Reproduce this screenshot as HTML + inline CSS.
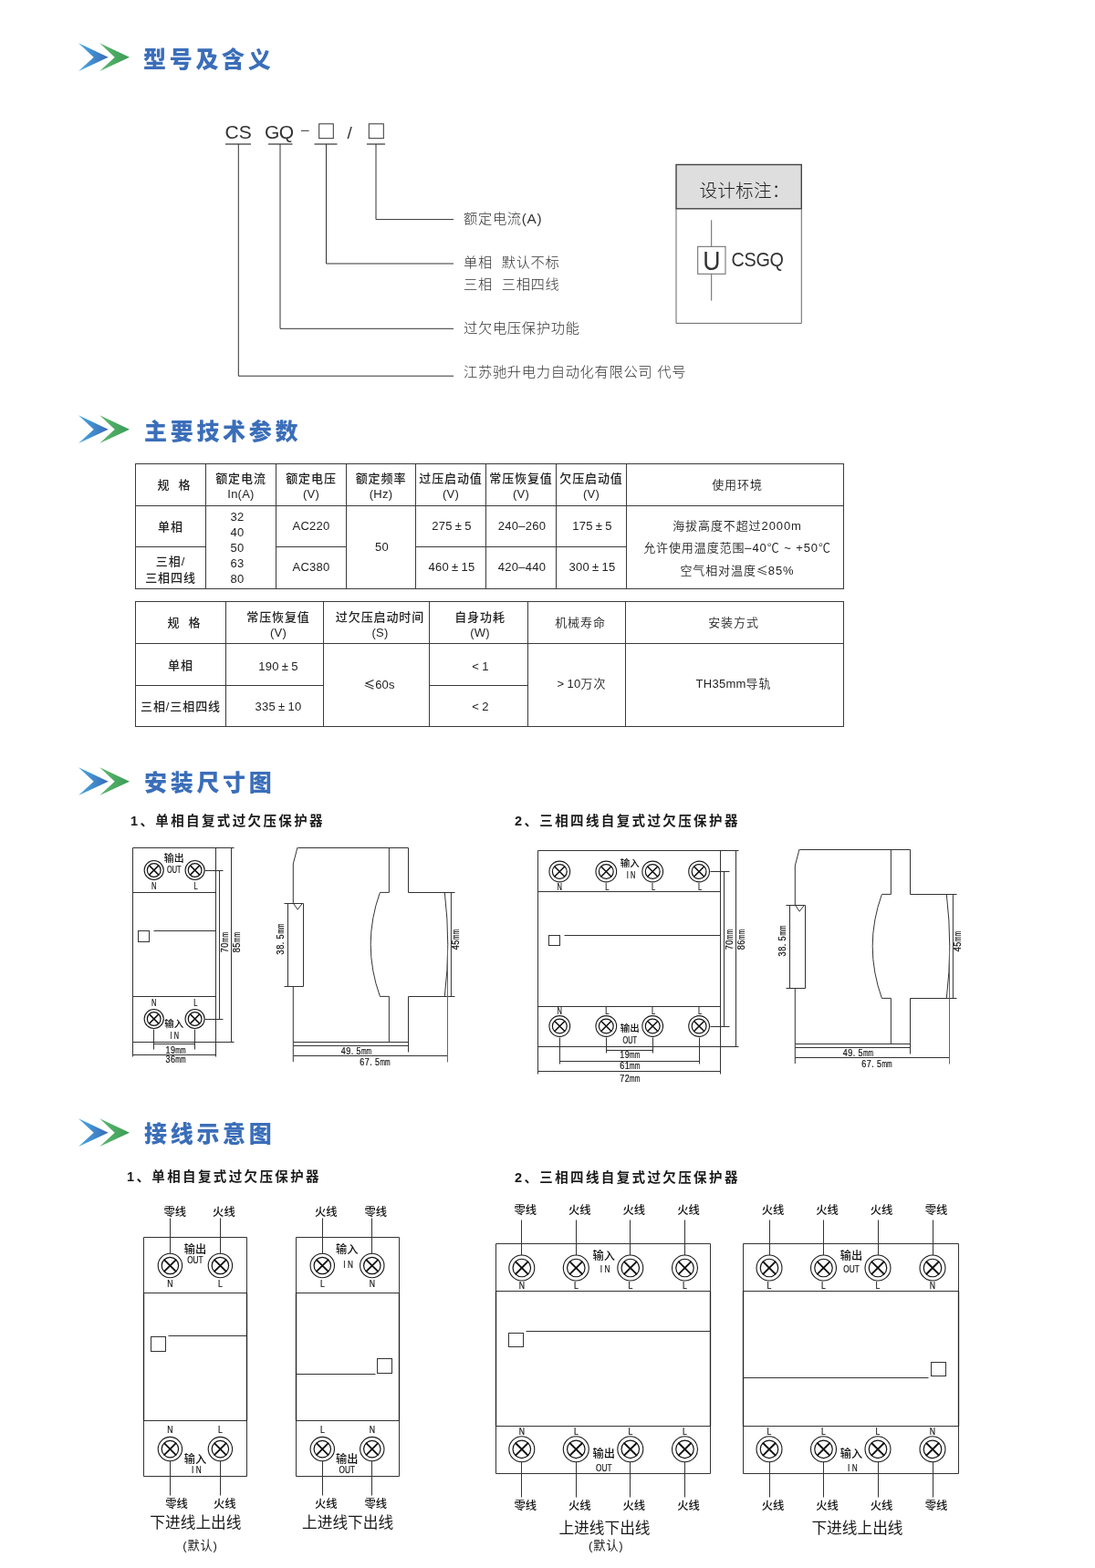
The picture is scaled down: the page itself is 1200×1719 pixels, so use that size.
<!DOCTYPE html>
<html lang="zh-CN">
<head>
<meta charset="utf-8">
<title>型号及含义 · 主要技术参数 · 安装尺寸图 · 接线示意图</title>
<style>
html,body{margin:0;padding:0;background:#fff;}
body{width:1200px;height:1719px;position:relative;overflow:hidden;
  font-family:"Liberation Sans","Noto Sans CJK SC",sans-serif;color:#333;}
#page{position:absolute;left:0;top:0;width:1200px;height:1719px;will-change:transform;}
h2.sec{position:absolute;margin:0;left:157px;height:36px;line-height:36px;
  font-family:"Liberation Sans","Noto Sans CJK SC",sans-serif;font-weight:900;
  font-size:25px;letter-spacing:3.7px;color:#3b6eb9;white-space:nowrap;}
svg.chev{position:absolute;left:80px;width:70px;height:40px;}
h3.sub{position:absolute;margin:0;height:20px;line-height:20px;
  font-family:"Liberation Sans","Noto Sans CJK SC",sans-serif;font-weight:bold;
  font-size:14.5px;letter-spacing:2.38px;color:#1a1a1a;white-space:nowrap;}
svg.art{position:absolute;left:0;top:0;width:1200px;height:1719px;overflow:visible;}
svg.art text{font-family:"Liberation Sans","Noto Sans CJK SC",sans-serif;fill:#333;}
svg.art text.cd{fill:#111;stroke:#111;stroke-width:0.2px;}
svg.art text.cj{fill:#111;font-weight:500;}
.ln{stroke:#333;stroke-width:1;fill:none;}
.lt{stroke:#666;stroke-width:1;fill:none;}
.lk{stroke:#222;stroke-width:1.3;fill:none;}
table.spec{position:absolute;border-collapse:collapse;table-layout:fixed;
  font-size:13px;letter-spacing:0.9px;color:#222;text-align:center;line-height:17px;font-weight:500;}
table.spec td,table.spec th{border:1px solid #3a3a3a;padding:0;font-weight:500;vertical-align:middle;overflow:hidden;white-space:nowrap;}
table.spec th.h2l{line-height:17.5px;padding-top:3.5px;}
table.spec th.sp{padding-left:8px;}
table.spec .n{letter-spacing:0.25px;word-spacing:-0.7px;}
table.spec td.ac{padding-left:0;padding-right:2px;}
table.spec td.n{padding-bottom:2px;padding-left:2px;}
table.spec td.cur{line-height:17px;padding-right:8px;padding-left:0;padding-bottom:0;padding-top:1px;}
table.spec td.env{line-height:24px;padding-top:2px;}
table.spec .last{padding-left:5px;}
table.spec .cj{font-family:"Noto Sans CJK SC","Liberation Sans",sans-serif;letter-spacing:0;}
table.spec .lw{font-weight:350;}
#t2 th.h2l{padding-top:5px;}
#t2 td.r1{padding-top:3.4px;padding-bottom:0;}
#t2 td.r0{padding-top:0;padding-bottom:0;}
#t2 td.c1{padding-top:1px;}
table.spec td.tp{line-height:18px;padding-top:4px;}
</style>
</head>
<body>
<div id="page">
<svg width="0" height="0" style="position:absolute">
  <defs>
    <linearGradient id="gb" x1="0" y1="0" x2="1" y2="0">
      <stop offset="0" stop-color="#47abe4"/><stop offset="1" stop-color="#3a69b6"/>
    </linearGradient>
    <linearGradient id="gg" x1="0" y1="0" x2="1" y2="0">
      <stop offset="0" stop-color="#5cb86f"/><stop offset="1" stop-color="#3a9c55"/>
    </linearGradient>
    <symbol id="chev" viewBox="0 0 70 40">
      <path d="M6 4.3 L38.7 19.7 L6 35 L22.7 19.7 Z" fill="url(#gb)"/>
      <path d="M29.2 4.3 L62 19.7 L29.2 35 L45.7 19.7 Z" fill="url(#gg)"/>
    </symbol>
    <symbol id="term" viewBox="-16 -16 32 32" overflow="visible">
      <circle cx="0" cy="0" r="13.2" fill="#fff" stroke="#1a1a1a" stroke-width="1.1" vector-effect="non-scaling-stroke"/>
      <circle cx="0" cy="0" r="9.2" fill="#fff" stroke="#111" stroke-width="1.2" vector-effect="non-scaling-stroke"/>
      <path d="M-6.7 -6.7 L6.7 6.7 M6.7 -6.7 L-6.7 6.7" stroke="#111" stroke-width="1.85" fill="none"/>
    </symbol>
  </defs>
</svg>

<!-- ============ Section 1: 型号及含义 ============ -->
<svg class="chev" style="top:43px"><use href="#chev" x="0" y="0" width="70" height="40"/></svg>
<h2 class="sec" style="top:46.5px">型号及含义</h2>

<svg class="art" viewBox="0 0 1200 1719">
  <!-- model code -->
  <g font-size="21px">
    <text x="246.5" y="151.8">CS</text>
    <text x="290" y="151.8" letter-spacing="-0.6px">GQ</text>
    <text x="380.5" y="151.8" font-size="19px">/</text>
  </g>
  <path class="ln" d="M330 143.3 H338.7" stroke-width="1.1"/>
  <rect class="ln" x="349.7" y="135.8" width="15.6" height="15.9"/>
  <rect class="ln" x="404.3" y="135.8" width="16" height="15.9"/>
  <g stroke="#5c5c5c" stroke-width="1.5" fill="none">
    <path d="M247 158 H275"/>
    <path d="M294 158 H320.5"/>
    <path d="M344.5 158 H369.5"/>
    <path d="M402 158 H422"/>
  </g>
  <g class="ln">
    <path d="M412 158 V240.6 H497"/>
    <path d="M357.5 158 V289 H497"/>
    <path d="M307 158 V360.3 H497"/>
    <path d="M261.3 158 V412.2 H497"/>
  </g>
  <g font-size="15.3px" letter-spacing="0.65px" font-weight="300" style="fill:#262626">
    <text x="508" y="245">额定电流(A)</text>
    <text x="508" y="293.4">单相&#160;&#160;默认不标</text>
    <text x="508" y="317">三相&#160;&#160;三相四线</text>
    <text x="508" y="364.8">过欠电压保护功能</text>
    <text x="508" y="412.8">江苏驰升电力自动化有限公司 代号</text>
  </g>
  <!-- design note box -->
  <rect x="741" y="180.5" width="137.3" height="48.3" fill="#dedede" stroke="#444" stroke-width="1.4"/>
  <path class="lt" d="M741 229 V354.4 H878.3 V229" stroke="#444"/>
  <text x="766.5" y="215.8" font-size="19.6px" letter-spacing="0.2px" font-weight="300" style="fill:#222">设计标注：</text>
  <path class="lt" d="M779.7 241.3 V270.3 M779.7 300.3 V329.6" stroke-width="1.2"/>
  <rect class="lt" x="764.7" y="270.3" width="30.3" height="30" stroke="#444"/>
  <text transform="translate(779.9 296) scale(0.92 1)" font-size="29px" text-anchor="middle">U</text>
  <text transform="translate(801.5 292.2) scale(0.9 1)" font-size="22px" letter-spacing="-0.3px">CSGQ</text>
</svg>

<!-- ============ Section 2: 主要技术参数 ============ -->
<svg class="chev" style="top:451px"><use href="#chev" x="0" y="0" width="70" height="40"/></svg>
<h2 class="sec" style="top:454.5px;left:158px">主要技术参数</h2>

<table class="spec" id="t1" style="left:148px;top:508px;width:777px;height:138px">
  <colgroup><col style="width:77px"><col style="width:77px"><col style="width:77px"><col style="width:76px"><col style="width:77px"><col style="width:77px"><col style="width:77px"><col style="width:238px"></colgroup>
  <tr style="height:46px">
    <th class="sp">规&#160;&#160;格</th>
    <th class="h2l">额定电流<br><span class="n">In(A)</span></th>
    <th class="h2l">额定电压<br><span class="n">(V)</span></th>
    <th class="h2l">额定频率<br><span class="n">(Hz)</span></th>
    <th class="h2l">过压启动值<br><span class="n">(V)</span></th>
    <th class="h2l">常压恢复值<br><span class="n">(V)</span></th>
    <th class="h2l">欠压启动值<br><span class="n">(V)</span></th>
    <th class="last lw">使用环境</th>
  </tr>
  <tr style="height:45px">
    <td class="c1">单相</td>
    <td rowspan="2" class="n cur">32<br>40<br>50<br>63<br>80</td>
    <td class="n ac">AC220</td>
    <td rowspan="2" class="n">50</td>
    <td class="n">275 ± 5</td>
    <td class="n">240–260</td>
    <td class="n">175 ± 5</td>
    <td rowspan="2" class="env last lw">海拔高度不超过2000m<br>允许使用温度范围–40℃ ~ +50℃<br>空气相对温度<span class="cj">≤</span>85%</td>
  </tr>
  <tr style="height:46px">
    <td class="tp">三相/<br>三相四线</td>
    <td class="n ac">AC380</td>
    <td class="n">460 ± 15</td>
    <td class="n">420–440</td>
    <td class="n">300 ± 15</td>
  </tr>
</table>

<table class="spec" id="t2" style="left:148px;top:659px;width:777px;height:138px">
  <colgroup><col style="width:99px"><col style="width:107px"><col style="width:116px"><col style="width:108px"><col style="width:107px"><col style="width:239px"></colgroup>
  <tr style="height:46px">
    <th class="sp">规&#160;&#160;格</th>
    <th class="h2l" style="padding-left:8px">常压恢复值<br><span class="n">(V)</span></th>
    <th class="h2l" style="padding-left:8px">过欠压启动时间<br><span class="n">(S)</span></th>
    <th class="h2l" style="padding-left:3px">自身功耗<br><span class="n">(W)</span></th>
    <th class="lw" style="padding-left:8px">机械寿命</th>
    <th class="lw" style="padding-right:2px">安装方式</th>
  </tr>
  <tr style="height:46px">
    <td class="c1">单相</td>
    <td class="n r1" style="padding-left:8px">190 ± 5</td>
    <td rowspan="2" class="n r0" style="padding-left:6px;padding-bottom:3px"><span class="cj">≤</span>60s</td>
    <td class="n r1" style="padding-left:4px">&lt; 1</td>
    <td rowspan="2" class="lw" style="padding-left:11px;padding-bottom:3px"><span class="n">&gt; 10</span>万次</td>
    <td rowspan="2" class="lw" style="padding-right:2px;padding-bottom:3px"><span class="n">TH35mm</span>导轨</td>
  </tr>
  <tr style="height:45px">
    <td class="c1">三相/三相四线</td>
    <td class="n r0" style="padding-left:8px">335 ± 10</td>
    <td class="n r0" style="padding-left:4px">&lt; 2</td>
  </tr>
</table>

<!-- ============ Section 3: 安装尺寸图 ============ -->
<svg class="chev" style="top:836.5px"><use href="#chev" x="0" y="0" width="70" height="40"/></svg>
<h2 class="sec" style="top:840px;left:158px">安装尺寸图</h2>
<h3 class="sub" style="left:143px;top:889.8px">1、单相自复式过欠压保护器</h3>
<h3 class="sub" style="left:564px;top:889.8px">2、三相四线自复式过欠压保护器</h3>

<svg class="art" viewBox="0 0 1200 1719">

<g id="dim1">
<g class="ln">
<path d="M145.5 929.5 H256.5 M145.5 1142.5 H256.5 M145.5 978.5 H236.5 M145.5 1092.5 H236.5"/>
<path d="M145.5 929.5 V1158.5 M236.5 929.5 V1158.5 M240.5 954.5 V1117.5 M253.5 929.5 V1142.5"/>
<path d="M224.5 954.5 H244.5 M224.5 1117.5 H244.5"/>
<path d="M168.5 1128.5 V1150.5 M213.5 1128.5 V1150.5 M168.5 1144.5 H213.5 M145.5 1156.5 H236.5"/>
<path d="M168.5 1020.5 H236.5"/>
<rect x="151.5" y="1020.5" width="12.0" height="12.0"/>
</g>
<use href="#term" x="-16" y="-16" width="32" height="32" transform="translate(168.7 954.0) scale(0.800)"/>
<use href="#term" x="-16" y="-16" width="32" height="32" transform="translate(168.7 1117.0) scale(0.800)"/>
<use href="#term" x="-16" y="-16" width="32" height="32" transform="translate(213.6 954.0) scale(0.800)"/>
<use href="#term" x="-16" y="-16" width="32" height="32" transform="translate(213.6 1117.0) scale(0.800)"/>
<text class="cj" x="190.7" y="944.6" text-anchor="middle" font-size="10.9px" >输出</text>
<text class="cd" transform="translate(190.7 956.8) scale(0.72 1)" text-anchor="middle" font-size="10.18px" >OUT</text>
<text class="cd" transform="translate(168.7 975.1) scale(0.69 1)" text-anchor="middle" font-size="10.92px" >N</text>
<text class="cd" transform="translate(214.6 975.1) scale(0.69 1)" text-anchor="middle" font-size="10.92px" >L</text>
<text class="cd" transform="translate(168.7 1102.8) scale(0.69 1)" text-anchor="middle" font-size="10.92px" >N</text>
<text class="cd" transform="translate(214.3 1102.8) scale(0.69 1)" text-anchor="middle" font-size="10.92px" >L</text>
<text class="cj" x="190.7" y="1126.0" text-anchor="middle" font-size="10.5px" >输入</text>
<text class="cd" transform="translate(192.4 1139.2) scale(0.72 1)" text-anchor="middle" font-size="10.18px" letter-spacing="3.2px">IN</text>
<g transform="translate(192.5 1154.6)"><text class="cd" transform="translate(-11.04 0) scale(0.88 1)" font-size="10.2px" letter-spacing="0.5px">19</text><text class="cd" transform="translate(-0.18 0) scale(0.66 1)" font-size="10.2px">mm</text></g>
<g transform="translate(192.5 1165.0)"><text class="cd" transform="translate(-11.04 0) scale(0.88 1)" font-size="10.2px" letter-spacing="0.5px">36</text><text class="cd" transform="translate(-0.18 0) scale(0.66 1)" font-size="10.2px">mm</text></g>
<g transform="translate(250.0 1033.0) rotate(-90)"><text class="cd" transform="translate(-11.25 0) scale(0.88 1)" font-size="10.4px" letter-spacing="0.5px">70</text><text class="cd" transform="translate(-0.19 0) scale(0.66 1)" font-size="10.4px">mm</text></g>
<g transform="translate(263.4 1033.0) rotate(-90)"><text class="cd" transform="translate(-11.25 0) scale(0.88 1)" font-size="10.4px" letter-spacing="0.5px">85</text><text class="cd" transform="translate(-0.19 0) scale(0.66 1)" font-size="10.4px">mm</text></g>
</g>
<g id="side1" transform="translate(0.0 0.0)">
<g class="ln">
<path d="M326.5 929.5 H447.5 V978.5 H498.5 M447.5 1092.5 H498.5 M447.5 1092.5 V1153.5"/>
<path d="M326 929 L321.3 947 V990 M321.3 1081 V1164"/>
<path d="M321.3 990 L326.2 997.2 L331.6 990"/>
<path d="M311.5 990.5 H332.5 V1081.5 H311.5 M315.5 990.5 V1081.5"/>
<path d="M426.4 929 V978.4 H416.4 Q396 1035.4 416.4 1092.4 H426.4 V1142"/>
<path d="M487.3 978.4 Q494.2 1035.4 487.3 1092.4 M494.4 978.4 V1092.4"/>
<path d="M321.5 1142.5 H447.5 M321.5 1146.5 H447.5 M321.5 1157.5 H490.5"/>
</g>
<path class="lt" d="M490.5 1036.5 V1164.5" stroke="#444"/>
<g transform="translate(311.2 1029.4) rotate(-90)"><text class="cd" transform="translate(-16.99 0) scale(0.88 1)" font-size="10.4px" letter-spacing="0.5px">38. 5</text><text class="cd" transform="translate(5.56 0) scale(0.66 1)" font-size="10.4px">mm</text></g>
<g transform="translate(503.0 1030.0) rotate(-90)"><text class="cd" transform="translate(-11.25 0) scale(0.88 1)" font-size="10.4px" letter-spacing="0.5px">45</text><text class="cd" transform="translate(-0.19 0) scale(0.66 1)" font-size="10.4px">mm</text></g>
<g transform="translate(390.5 1156.0)"><text class="cd" transform="translate(-16.69 0) scale(0.88 1)" font-size="10.2px" letter-spacing="0.5px">49. 5</text><text class="cd" transform="translate(5.47 0) scale(0.66 1)" font-size="10.2px">mm</text></g>
<g transform="translate(411.0 1168.0)"><text class="cd" transform="translate(-16.69 0) scale(0.88 1)" font-size="10.2px" letter-spacing="0.5px">67. 5</text><text class="cd" transform="translate(5.47 0) scale(0.66 1)" font-size="10.2px">mm</text></g>
</g>
<g id="dim2">
<g class="ln">
<path d="M589.5 932.5 H809.5 M589.5 1147.5 H809.5 M589.5 977.5 H789.5 M589.5 1103.5 H789.5"/>
<path d="M589.5 932.5 V1177.5 M789.5 932.5 V1177.5 M793.5 955.5 V1125.5 M806.5 932.5 V1147.5"/>
<path d="M778.5 955.5 H799.5 M778.5 1125.5 H799.5"/>
<path d="M664.5 1137.5 V1154.5 M715.5 1137.5 V1154.5 M664.5 1151.5 H715.5"/>
<path d="M613.5 1137.5 V1166.5 M766.5 1137.5 V1166.5 M613.5 1163.5 H766.5"/>
<path d="M589.5 1174.5 H789.5"/>
<path d="M618.5 1025.5 H789.5"/>
<rect x="601.5" y="1025.5" width="12.0" height="11.0"/>
</g>
<use href="#term" x="-16" y="-16" width="32" height="32" transform="translate(613.3 955.5) scale(0.860)"/>
<use href="#term" x="-16" y="-16" width="32" height="32" transform="translate(613.3 1125.0) scale(0.860)"/>
<use href="#term" x="-16" y="-16" width="32" height="32" transform="translate(664.3 955.5) scale(0.860)"/>
<use href="#term" x="-16" y="-16" width="32" height="32" transform="translate(664.3 1125.0) scale(0.860)"/>
<use href="#term" x="-16" y="-16" width="32" height="32" transform="translate(715.2 955.5) scale(0.860)"/>
<use href="#term" x="-16" y="-16" width="32" height="32" transform="translate(715.2 1125.0) scale(0.860)"/>
<use href="#term" x="-16" y="-16" width="32" height="32" transform="translate(766.1 955.5) scale(0.860)"/>
<use href="#term" x="-16" y="-16" width="32" height="32" transform="translate(766.1 1125.0) scale(0.860)"/>
<text class="cj" x="690.3" y="949.6" text-anchor="middle" font-size="10.5px" >输入</text>
<text class="cd" transform="translate(692.6 962.8) scale(0.72 1)" text-anchor="middle" font-size="10.18px" letter-spacing="3.2px">IN</text>
<text class="cd" transform="translate(613.3 976.2) scale(0.69 1)" text-anchor="middle" font-size="10.92px" >N</text>
<text class="cd" transform="translate(613.3 1111.6) scale(0.69 1)" text-anchor="middle" font-size="10.92px" >N</text>
<text class="cd" transform="translate(665.3 976.2) scale(0.69 1)" text-anchor="middle" font-size="10.92px" >L</text>
<text class="cd" transform="translate(665.3 1111.6) scale(0.69 1)" text-anchor="middle" font-size="10.92px" >L</text>
<text class="cd" transform="translate(716.2 976.2) scale(0.69 1)" text-anchor="middle" font-size="10.92px" >L</text>
<text class="cd" transform="translate(716.2 1111.6) scale(0.69 1)" text-anchor="middle" font-size="10.92px" >L</text>
<text class="cd" transform="translate(767.1 976.2) scale(0.69 1)" text-anchor="middle" font-size="10.92px" >L</text>
<text class="cd" transform="translate(767.1 1111.6) scale(0.69 1)" text-anchor="middle" font-size="10.92px" >L</text>
<text class="cj" x="690.3" y="1131.4" text-anchor="middle" font-size="10.5px" >输出</text>
<text class="cd" transform="translate(690.3 1144.2) scale(0.72 1)" text-anchor="middle" font-size="10.18px" >OUT</text>
<g transform="translate(690.3 1159.9)"><text class="cd" transform="translate(-11.04 0) scale(0.88 1)" font-size="10.2px" letter-spacing="0.5px">19</text><text class="cd" transform="translate(-0.18 0) scale(0.66 1)" font-size="10.2px">mm</text></g>
<g transform="translate(690.3 1171.8)"><text class="cd" transform="translate(-11.04 0) scale(0.88 1)" font-size="10.2px" letter-spacing="0.5px">61</text><text class="cd" transform="translate(-0.18 0) scale(0.66 1)" font-size="10.2px">mm</text></g>
<g transform="translate(690.3 1186.4)"><text class="cd" transform="translate(-11.04 0) scale(0.88 1)" font-size="10.2px" letter-spacing="0.5px">72</text><text class="cd" transform="translate(-0.18 0) scale(0.66 1)" font-size="10.2px">mm</text></g>
<g transform="translate(803.3 1030.0) rotate(-90)"><text class="cd" transform="translate(-11.25 0) scale(0.88 1)" font-size="10.4px" letter-spacing="0.5px">70</text><text class="cd" transform="translate(-0.19 0) scale(0.66 1)" font-size="10.4px">mm</text></g>
<g transform="translate(816.3 1030.0) rotate(-90)"><text class="cd" transform="translate(-11.25 0) scale(0.88 1)" font-size="10.4px" letter-spacing="0.5px">86</text><text class="cd" transform="translate(-0.19 0) scale(0.66 1)" font-size="10.4px">mm</text></g>
</g>
<g id="side2" transform="translate(550.0 2.0)">
<g class="ln">
<path d="M326.5 929.5 H447.5 V978.5 H498.5 M447.5 1092.5 H498.5 M447.5 1092.5 V1153.5"/>
<path d="M326 929 L321.3 947 V990 M321.3 1081 V1164"/>
<path d="M321.3 990 L326.2 997.2 L331.6 990"/>
<path d="M311.5 990.5 H332.5 V1081.5 H311.5 M315.5 990.5 V1081.5"/>
<path d="M426.4 929 V978.4 H416.4 Q396 1035.4 416.4 1092.4 H426.4 V1142"/>
<path d="M487.3 978.4 Q494.2 1035.4 487.3 1092.4 M494.4 978.4 V1092.4"/>
<path d="M321.5 1142.5 H447.5 M321.5 1146.5 H447.5 M321.5 1157.5 H490.5"/>
</g>
<path class="lt" d="M490.5 1036.5 V1164.5" stroke="#444"/>
<g transform="translate(311.2 1029.4) rotate(-90)"><text class="cd" transform="translate(-16.99 0) scale(0.88 1)" font-size="10.4px" letter-spacing="0.5px">38. 5</text><text class="cd" transform="translate(5.56 0) scale(0.66 1)" font-size="10.4px">mm</text></g>
<g transform="translate(503.0 1030.0) rotate(-90)"><text class="cd" transform="translate(-11.25 0) scale(0.88 1)" font-size="10.4px" letter-spacing="0.5px">45</text><text class="cd" transform="translate(-0.19 0) scale(0.66 1)" font-size="10.4px">mm</text></g>
<g transform="translate(390.5 1156.0)"><text class="cd" transform="translate(-16.69 0) scale(0.88 1)" font-size="10.2px" letter-spacing="0.5px">49. 5</text><text class="cd" transform="translate(5.47 0) scale(0.66 1)" font-size="10.2px">mm</text></g>
<g transform="translate(411.0 1168.0)"><text class="cd" transform="translate(-16.69 0) scale(0.88 1)" font-size="10.2px" letter-spacing="0.5px">67. 5</text><text class="cd" transform="translate(5.47 0) scale(0.66 1)" font-size="10.2px">mm</text></g>
</g>
</svg>

<!-- ============ Section 4: 接线示意图 ============ -->
<svg class="chev" style="top:1221.5px"><use href="#chev" x="0" y="0" width="70" height="40"/></svg>
<h2 class="sec" style="top:1225px;left:158px">接线示意图</h2>
<h3 class="sub" style="left:139px;top:1279.5px">1、单相自复式过欠压保护器</h3>
<h3 class="sub" style="left:564px;top:1280.5px">2、三相四线自复式过欠压保护器</h3>

<svg class="art" viewBox="0 0 1200 1719">

<g id="w1">
<g class="ln">
<path d="M157.5 1356.5 H270.5 V1618.5 H157.5 Z M157.5 1417.5 H270.5 M157.5 1557.5 H270.5"/>
<path class="lk" d="M157.5 1417.5 V1557.5 M270.5 1417.5 V1557.5"/>
<path d="M186.5 1335.5 V1387.5 M186.5 1588.5 V1639.5"/>
<path d="M241.5 1335.5 V1387.5 M241.5 1588.5 V1639.5"/>
<rect x="165.5" y="1465.5" width="16.0" height="16.0"/>
<path d="M184.5 1464.5 H270.5"/>
</g>
<use href="#term" x="-16" y="-16" width="32" height="32" transform="translate(186.4 1387.5) scale(1.000)"/>
<use href="#term" x="-16" y="-16" width="32" height="32" transform="translate(186.4 1588.6) scale(1.000)"/>
<use href="#term" x="-16" y="-16" width="32" height="32" transform="translate(241.4 1387.5) scale(1.000)"/>
<use href="#term" x="-16" y="-16" width="32" height="32" transform="translate(241.4 1588.6) scale(1.000)"/>
<text class="cj" x="191.8" y="1332.5" text-anchor="middle" font-size="12.3px" >零线</text>
<text class="cj" x="245.4" y="1332.5" text-anchor="middle" font-size="12.3px" >火线</text>
<text class="cj" x="193.6" y="1652.5" text-anchor="middle" font-size="12.3px" >零线</text>
<text class="cj" x="246.2" y="1652.5" text-anchor="middle" font-size="12.3px" >火线</text>
<text class="cd" transform="translate(186.4 1410.7) scale(0.76 1)" text-anchor="middle" font-size="11.45px" >N</text>
<text class="cd" transform="translate(241.4 1410.7) scale(0.76 1)" text-anchor="middle" font-size="11.45px" >L</text>
<text class="cd" transform="translate(186.4 1571.3) scale(0.76 1)" text-anchor="middle" font-size="11.45px" >N</text>
<text class="cd" transform="translate(241.4 1571.3) scale(0.76 1)" text-anchor="middle" font-size="11.45px" >L</text>
<text class="cj" x="213.9" y="1373.8" text-anchor="middle" font-size="12.2px" >输出</text>
<text class="cd" transform="translate(213.9 1385.2) scale(0.72 1)" text-anchor="middle" font-size="11.45px" >OUT</text>
<text class="cj" x="213.9" y="1604.0" text-anchor="middle" font-size="12.2px" >输入</text>
<text class="cd" transform="translate(216.5 1615.4) scale(0.72 1)" text-anchor="middle" font-size="11.45px" letter-spacing="3.4px">IN</text>
<text class="cj" x="214.4" y="1674.6" text-anchor="middle" font-size="16.7px" style="font-weight:400;fill:#1a1a1a">下进线上出线</text>
<text class="cj" x="219.4" y="1698.5" text-anchor="middle" font-size="13.2px" style="font-weight:400;fill:#1a1a1a" letter-spacing="0.8px">(默认)</text>
</g>
<g id="w2">
<g class="ln">
<path d="M324.5 1356.5 H437.5 V1618.5 H324.5 Z M324.5 1417.5 H437.5 M324.5 1557.5 H437.5"/>
<path class="lk" d="M324.5 1417.5 V1557.5 M437.5 1417.5 V1557.5"/>
<path d="M353.5 1335.5 V1387.5 M353.5 1588.5 V1639.5"/>
<path d="M407.5 1335.5 V1387.5 M407.5 1588.5 V1639.5"/>
<rect x="413.5" y="1489.5" width="16.0" height="16.0"/>
<path d="M324.5 1506.5 H411.5"/>
</g>
<use href="#term" x="-16" y="-16" width="32" height="32" transform="translate(353.3 1387.5) scale(1.000)"/>
<use href="#term" x="-16" y="-16" width="32" height="32" transform="translate(353.3 1588.6) scale(1.000)"/>
<use href="#term" x="-16" y="-16" width="32" height="32" transform="translate(407.8 1387.5) scale(1.000)"/>
<use href="#term" x="-16" y="-16" width="32" height="32" transform="translate(407.8 1588.6) scale(1.000)"/>
<text class="cj" x="357.3" y="1332.5" text-anchor="middle" font-size="12.3px" >火线</text>
<text class="cj" x="411.8" y="1332.5" text-anchor="middle" font-size="12.3px" >零线</text>
<text class="cj" x="357.3" y="1652.5" text-anchor="middle" font-size="12.3px" >火线</text>
<text class="cj" x="411.8" y="1652.5" text-anchor="middle" font-size="12.3px" >零线</text>
<text class="cd" transform="translate(353.3 1410.7) scale(0.76 1)" text-anchor="middle" font-size="11.45px" >L</text>
<text class="cd" transform="translate(407.8 1410.7) scale(0.76 1)" text-anchor="middle" font-size="11.45px" >N</text>
<text class="cd" transform="translate(353.3 1571.3) scale(0.76 1)" text-anchor="middle" font-size="11.45px" >L</text>
<text class="cd" transform="translate(407.8 1571.3) scale(0.76 1)" text-anchor="middle" font-size="11.45px" >N</text>
<text class="cj" x="380.3" y="1374.4" text-anchor="middle" font-size="12.2px" >输入</text>
<text class="cd" transform="translate(382.9 1389.6) scale(0.72 1)" text-anchor="middle" font-size="11.45px" letter-spacing="3.4px">IN</text>
<text class="cj" x="380.3" y="1604.0" text-anchor="middle" font-size="12.2px" >输出</text>
<text class="cd" transform="translate(380.3 1615.4) scale(0.72 1)" text-anchor="middle" font-size="11.45px" >OUT</text>
<text class="cj" x="381.1" y="1674.6" text-anchor="middle" font-size="16.7px" style="font-weight:400;fill:#1a1a1a">上进线下出线</text>
</g>
<g id="w3">
<g class="ln">
<path d="M543.5 1363.5 H778.5 V1615.5 H543.5 Z M543.5 1415.5 H778.5 M543.5 1563.5 H778.5"/>
<path class="lk" d="M543.5 1415.5 V1563.5 M778.5 1415.5 V1563.5"/>
<path d="M571.5 1337.5 V1390.5 M571.5 1588.5 V1641.5"/>
<path d="M631.5 1337.5 V1390.5 M631.5 1588.5 V1641.5"/>
<path d="M690.5 1337.5 V1390.5 M690.5 1588.5 V1641.5"/>
<path d="M750.5 1337.5 V1390.5 M750.5 1588.5 V1641.5"/>
<rect x="557.5" y="1461.5" width="16.0" height="15.0"/>
<path d="M576.5 1459.5 H778.5"/>
</g>
<use href="#term" x="-16" y="-16" width="32" height="32" transform="translate(571.8 1390.0) scale(1.060)"/>
<use href="#term" x="-16" y="-16" width="32" height="32" transform="translate(571.8 1588.8) scale(1.060)"/>
<use href="#term" x="-16" y="-16" width="32" height="32" transform="translate(631.3 1390.0) scale(1.060)"/>
<use href="#term" x="-16" y="-16" width="32" height="32" transform="translate(631.3 1588.8) scale(1.060)"/>
<use href="#term" x="-16" y="-16" width="32" height="32" transform="translate(690.8 1390.0) scale(1.060)"/>
<use href="#term" x="-16" y="-16" width="32" height="32" transform="translate(690.8 1588.8) scale(1.060)"/>
<use href="#term" x="-16" y="-16" width="32" height="32" transform="translate(750.5 1390.0) scale(1.060)"/>
<use href="#term" x="-16" y="-16" width="32" height="32" transform="translate(750.5 1588.8) scale(1.060)"/>
<text class="cj" x="575.8" y="1331.2" text-anchor="middle" font-size="12.3px" >零线</text>
<text class="cj" x="635.3" y="1331.2" text-anchor="middle" font-size="12.3px" >火线</text>
<text class="cj" x="694.8" y="1331.2" text-anchor="middle" font-size="12.3px" >火线</text>
<text class="cj" x="754.5" y="1331.2" text-anchor="middle" font-size="12.3px" >火线</text>
<text class="cj" x="575.8" y="1655.0" text-anchor="middle" font-size="12.3px" >零线</text>
<text class="cj" x="635.3" y="1655.0" text-anchor="middle" font-size="12.3px" >火线</text>
<text class="cj" x="694.8" y="1655.0" text-anchor="middle" font-size="12.3px" >火线</text>
<text class="cj" x="754.5" y="1655.0" text-anchor="middle" font-size="12.3px" >火线</text>
<text class="cd" transform="translate(571.8 1413.2) scale(0.76 1)" text-anchor="middle" font-size="11.45px" >N</text>
<text class="cd" transform="translate(631.3 1413.2) scale(0.76 1)" text-anchor="middle" font-size="11.45px" >L</text>
<text class="cd" transform="translate(690.8 1413.2) scale(0.76 1)" text-anchor="middle" font-size="11.45px" >L</text>
<text class="cd" transform="translate(750.5 1413.2) scale(0.76 1)" text-anchor="middle" font-size="11.45px" >L</text>
<text class="cd" transform="translate(571.8 1572.5) scale(0.76 1)" text-anchor="middle" font-size="11.45px" >N</text>
<text class="cd" transform="translate(631.3 1572.5) scale(0.76 1)" text-anchor="middle" font-size="11.45px" >L</text>
<text class="cd" transform="translate(690.8 1572.5) scale(0.76 1)" text-anchor="middle" font-size="11.45px" >L</text>
<text class="cd" transform="translate(750.5 1572.5) scale(0.76 1)" text-anchor="middle" font-size="11.45px" >L</text>
<text class="cj" x="661.8" y="1380.6" text-anchor="middle" font-size="12.2px" >输入</text>
<text class="cd" transform="translate(664.4 1395.2) scale(0.72 1)" text-anchor="middle" font-size="11.45px" letter-spacing="3.4px">IN</text>
<text class="cj" x="661.8" y="1598.2" text-anchor="middle" font-size="12.2px" >输出</text>
<text class="cd" transform="translate(661.8 1612.6) scale(0.72 1)" text-anchor="middle" font-size="11.45px" >OUT</text>
<text class="cj" x="662.5" y="1680.5" text-anchor="middle" font-size="16.7px" style="font-weight:400;fill:#1a1a1a">上进线下出线</text>
<text class="cj" x="664.3" y="1698.8" text-anchor="middle" font-size="13.2px" style="font-weight:400;fill:#1a1a1a" letter-spacing="0.8px">(默认)</text>
</g>
<g id="w4">
<g class="ln">
<path d="M814.5 1363.5 H1050.5 V1615.5 H814.5 Z M814.5 1415.5 H1050.5 M814.5 1563.5 H1050.5"/>
<path class="lk" d="M814.5 1415.5 V1563.5 M1050.5 1415.5 V1563.5"/>
<path d="M843.5 1337.5 V1390.5 M843.5 1588.5 V1641.5"/>
<path d="M902.5 1337.5 V1390.5 M902.5 1588.5 V1641.5"/>
<path d="M962.5 1337.5 V1390.5 M962.5 1588.5 V1641.5"/>
<path d="M1022.5 1337.5 V1390.5 M1022.5 1588.5 V1641.5"/>
<rect x="1020.5" y="1493.5" width="16.0" height="15.0"/>
<path d="M814.5 1510.5 H1017.5"/>
</g>
<use href="#term" x="-16" y="-16" width="32" height="32" transform="translate(843.0 1390.0) scale(1.060)"/>
<use href="#term" x="-16" y="-16" width="32" height="32" transform="translate(843.0 1588.8) scale(1.060)"/>
<use href="#term" x="-16" y="-16" width="32" height="32" transform="translate(902.5 1390.0) scale(1.060)"/>
<use href="#term" x="-16" y="-16" width="32" height="32" transform="translate(902.5 1588.8) scale(1.060)"/>
<use href="#term" x="-16" y="-16" width="32" height="32" transform="translate(962.0 1390.0) scale(1.060)"/>
<use href="#term" x="-16" y="-16" width="32" height="32" transform="translate(962.0 1588.8) scale(1.060)"/>
<use href="#term" x="-16" y="-16" width="32" height="32" transform="translate(1022.0 1390.0) scale(1.060)"/>
<use href="#term" x="-16" y="-16" width="32" height="32" transform="translate(1022.0 1588.8) scale(1.060)"/>
<text class="cj" x="847.0" y="1331.2" text-anchor="middle" font-size="12.3px" >火线</text>
<text class="cj" x="906.5" y="1331.2" text-anchor="middle" font-size="12.3px" >火线</text>
<text class="cj" x="966.0" y="1331.2" text-anchor="middle" font-size="12.3px" >火线</text>
<text class="cj" x="1026.0" y="1331.2" text-anchor="middle" font-size="12.3px" >零线</text>
<text class="cj" x="847.0" y="1655.0" text-anchor="middle" font-size="12.3px" >火线</text>
<text class="cj" x="906.5" y="1655.0" text-anchor="middle" font-size="12.3px" >火线</text>
<text class="cj" x="966.0" y="1655.0" text-anchor="middle" font-size="12.3px" >火线</text>
<text class="cj" x="1026.0" y="1655.0" text-anchor="middle" font-size="12.3px" >零线</text>
<text class="cd" transform="translate(843.0 1413.2) scale(0.76 1)" text-anchor="middle" font-size="11.45px" >L</text>
<text class="cd" transform="translate(902.5 1413.2) scale(0.76 1)" text-anchor="middle" font-size="11.45px" >L</text>
<text class="cd" transform="translate(962.0 1413.2) scale(0.76 1)" text-anchor="middle" font-size="11.45px" >L</text>
<text class="cd" transform="translate(1022.0 1413.2) scale(0.76 1)" text-anchor="middle" font-size="11.45px" >N</text>
<text class="cd" transform="translate(843.0 1572.5) scale(0.76 1)" text-anchor="middle" font-size="11.45px" >L</text>
<text class="cd" transform="translate(902.5 1572.5) scale(0.76 1)" text-anchor="middle" font-size="11.45px" >L</text>
<text class="cd" transform="translate(962.0 1572.5) scale(0.76 1)" text-anchor="middle" font-size="11.45px" >L</text>
<text class="cd" transform="translate(1022.0 1572.5) scale(0.76 1)" text-anchor="middle" font-size="11.45px" >N</text>
<text class="cj" x="933.0" y="1380.6" text-anchor="middle" font-size="12.2px" >输出</text>
<text class="cd" transform="translate(933.0 1395.2) scale(0.72 1)" text-anchor="middle" font-size="11.45px" >OUT</text>
<text class="cj" x="933.0" y="1598.2" text-anchor="middle" font-size="12.2px" >输入</text>
<text class="cd" transform="translate(935.6 1612.6) scale(0.72 1)" text-anchor="middle" font-size="11.45px" letter-spacing="3.4px">IN</text>
<text class="cj" x="939.5" y="1680.5" text-anchor="middle" font-size="16.7px" style="font-weight:400;fill:#1a1a1a">下进线上出线</text>
</g>
</svg>
</div>
</body>
</html>
